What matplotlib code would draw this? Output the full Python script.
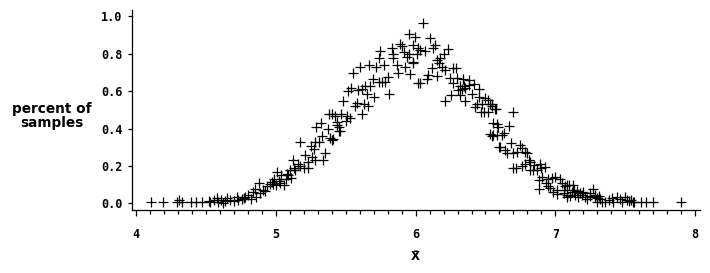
import matplotlib
matplotlib.use("Agg")
import matplotlib.pyplot as plt
from matplotlib.ticker import MultipleLocator


# sample mean values, with the matching fraction of samples
xbar = [
    4.11, 4.19, 4.29, 4.31, 4.33, 4.39, 4.43, 4.47, 4.52, 4.53,
    4.56, 4.58, 4.59, 4.61, 4.62, 4.64, 4.65, 4.67, 4.70, 4.72,
    4.73, 4.76, 4.77, 4.78, 4.80, 4.82, 4.84, 4.85, 4.86, 4.88,
    4.89, 4.91, 4.92, 4.94, 4.96, 4.97, 4.98, 4.99, 5.00, 5.01,
    5.02, 5.03, 5.04, 5.06, 5.07, 5.08, 5.09, 5.10, 5.11, 5.12,
    5.13, 5.14, 5.16, 5.17, 5.17, 5.20, 5.21, 5.23, 5.23, 5.25,
    5.26, 5.27, 5.28, 5.28, 5.29, 5.31, 5.32, 5.33, 5.34, 5.35,
    5.37, 5.38, 5.39, 5.40, 5.40, 5.41, 5.42, 5.44, 5.44, 5.45,
    5.45, 5.46, 5.47, 5.48, 5.50, 5.51, 5.52, 5.53, 5.54, 5.555,
    5.57, 5.58, 5.585, 5.60, 5.615, 5.62, 5.63, 5.635, 5.655, 5.66,
    5.67, 5.675, 5.695, 5.70, 5.72, 5.735, 5.74, 5.745, 5.76, 5.775,
    5.78, 5.805, 5.81, 5.83, 5.84, 5.84, 5.865, 5.875, 5.89, 5.90,
    5.92, 5.925, 5.94, 5.95, 5.955, 5.96, 5.985, 5.985, 5.985, 5.995,
    6.01, 6.015, 6.02, 6.03, 6.035, 6.05, 6.07, 6.08, 6.09, 6.105,
    6.115, 6.125, 6.14, 6.15, 6.15, 6.165, 6.175, 6.19, 6.20, 6.21,
    6.21, 6.235, 6.245, 6.25, 6.265, 6.27, 6.29, 6.295, 6.305, 6.315,
    6.32, 6.33, 6.34, 6.345, 6.35, 6.355, 6.38, 6.385, 6.40, 6.415,
    6.425, 6.44, 6.45, 6.455, 6.465, 6.475, 6.49, 6.50, 6.515, 6.52,
    6.535, 6.535, 6.545, 6.545, 6.55, 6.555, 6.555, 6.57, 6.575, 6.58,
    6.585, 6.59, 6.595, 6.605, 6.615, 6.63, 6.64, 6.655, 6.665, 6.68,
    6.70, 6.70, 6.70, 6.72, 6.725, 6.75, 6.76, 6.76, 6.78, 6.785,
    6.795, 6.81, 6.815, 6.82, 6.84, 6.845, 6.865, 6.88, 6.885, 6.89,
    6.90, 6.905, 6.925, 6.93, 6.95, 6.95, 6.96, 6.975, 6.985, 7.00,
    7.01, 7.01, 7.035, 7.045, 7.06, 7.06, 7.07, 7.08, 7.08, 7.085,
    7.095, 7.105, 7.12, 7.125, 7.13, 7.14, 7.155, 7.165, 7.175, 7.19,
    7.20, 7.21, 7.225, 7.25, 7.25, 7.27, 7.285, 7.285, 7.30, 7.30,
    7.31, 7.32, 7.33, 7.355, 7.38, 7.405, 7.415, 7.44, 7.46, 7.475,
    7.50, 7.51, 7.525, 7.54, 7.555, 7.56, 7.61, 7.65, 7.70, 7.90,
]
pct = [
    0.010, 0.010, 0.010, 0.020, 0.010, 0.010, 0.010, 0.010, 0.015, 0.010,
    0.020, 0.030, 0.010, 0.020, 0.005, 0.015, 0.030, 0.020, 0.015, 0.033,
    0.020, 0.022, 0.030, 0.033, 0.045, 0.022, 0.063, 0.080, 0.036, 0.108,
    0.058, 0.072, 0.067, 0.094, 0.103, 0.117, 0.106, 0.130, 0.100, 0.170,
    0.120, 0.108, 0.150, 0.100, 0.130, 0.160, 0.150, 0.180, 0.135, 0.230,
    0.190, 0.180, 0.210, 0.200, 0.330, 0.190, 0.260, 0.220, 0.190, 0.310,
    0.250, 0.290, 0.330, 0.230, 0.410, 0.330, 0.430, 0.360, 0.230, 0.270,
    0.400, 0.480, 0.350, 0.340, 0.477, 0.345, 0.470, 0.420, 0.434, 0.390,
    0.410, 0.388, 0.477, 0.548, 0.440, 0.470, 0.600, 0.455, 0.616, 0.700,
    0.520, 0.540, 0.607, 0.730, 0.612, 0.480, 0.530, 0.630, 0.584, 0.520,
    0.740, 0.630, 0.666, 0.571, 0.730, 0.776, 0.650, 0.815, 0.651, 0.740,
    0.650, 0.678, 0.584, 0.830, 0.800, 0.780, 0.740, 0.696, 0.851, 0.840,
    0.810, 0.730, 0.785, 0.905, 0.800, 0.690, 0.848, 0.758, 0.750, 0.890,
    0.800, 0.830, 0.643, 0.820, 0.643, 0.964, 0.815, 0.666, 0.687, 0.883,
    0.723, 0.830, 0.848, 0.767, 0.683, 0.750, 0.776, 0.730, 0.798, 0.714,
    0.548, 0.826, 0.670, 0.580, 0.643, 0.726, 0.726, 0.673, 0.607, 0.580,
    0.630, 0.612, 0.666, 0.630, 0.620, 0.548, 0.660, 0.634, 0.584, 0.637,
    0.518, 0.530, 0.571, 0.612, 0.488, 0.530, 0.490, 0.562, 0.553, 0.490,
    0.530, 0.370, 0.532, 0.360, 0.520, 0.367, 0.429, 0.505, 0.504, 0.423,
    0.366, 0.410, 0.300, 0.300, 0.366, 0.379, 0.286, 0.272, 0.414, 0.325,
    0.490, 0.268, 0.188, 0.188, 0.277, 0.313, 0.295, 0.200, 0.210, 0.277,
    0.268, 0.233, 0.179, 0.224, 0.179, 0.206, 0.179, 0.126, 0.076, 0.211,
    0.190, 0.140, 0.197, 0.111, 0.129, 0.094, 0.081, 0.135, 0.063, 0.140,
    0.072, 0.050, 0.129, 0.111, 0.072, 0.054, 0.094, 0.045, 0.099, 0.036,
    0.099, 0.040, 0.063, 0.099, 0.072, 0.045, 0.068, 0.036, 0.054, 0.045,
    0.063, 0.036, 0.022, 0.054, 0.040, 0.076, 0.045, 0.036, 0.010, 0.028,
    0.040, 0.022, 0.010, 0.010, 0.019, 0.028, 0.010, 0.036, 0.022, 0.010,
    0.036, 0.019, 0.015, 0.019, 0.010, 0.010, 0.010, 0.010, 0.010, 0.010,
]

x_major = [4, 5, 6, 7, 8]
y_major = [0.0, 0.2, 0.4, 0.6, 0.8, 1.0]
y_labels = ["0.0", "0.2", "0.4", "0.6", "0.8", "1.0"]


def main():
    fig = plt.figure(figsize=(7.10, 2.73), dpi=100)
    ax = fig.add_axes([0.1859, 0.2308, 0.8003, 0.7326])

    ax.plot(xbar, pct, linestyle="none", marker="+", markersize=7,
            markeredgewidth=0.9, color="black")

    ax.set_xlim(3.9714, 8.0358)
    ax.set_ylim(-0.0348, 1.0348)

    for side in ("top", "right"):
        ax.spines[side].set_visible(False)
    for side in ("left", "bottom"):
        ax.spines[side].set_linewidth(0.9)

    ax.set_xticks(x_major)
    ax.xaxis.set_minor_locator(MultipleLocator(0.1))
    ax.set_yticks(y_major)
    ax.set_yticklabels(y_labels)

    ax.tick_params(axis="x", which="major", length=4.3, width=0.9, pad=8.5)
    ax.tick_params(axis="x", which="minor", length=2.9, width=0.9)
    ax.tick_params(axis="y", which="major", length=2.9, width=0.9, pad=4)
    for lab in ax.get_xticklabels() + ax.get_yticklabels():
        lab.set_family("DejaVu Sans Mono")
        lab.set_fontweight("bold")
        lab.set_fontsize(8.5)

    fig.text(52 / 710, 1 - 116 / 273, "percent of\nsamples", ha="center",
             va="center", fontsize=9.8, family="DejaVu Sans",
             fontweight="bold", linespacing=0.95)
    fig.text(415 / 710, 1 - 256 / 273, "X\u0304", ha="center", va="center",
             fontsize=8.5, family="DejaVu Sans", fontweight="bold")

    fig.savefig("out.png", dpi=100)
    plt.close(fig)


if __name__ == "__main__":
    main()
